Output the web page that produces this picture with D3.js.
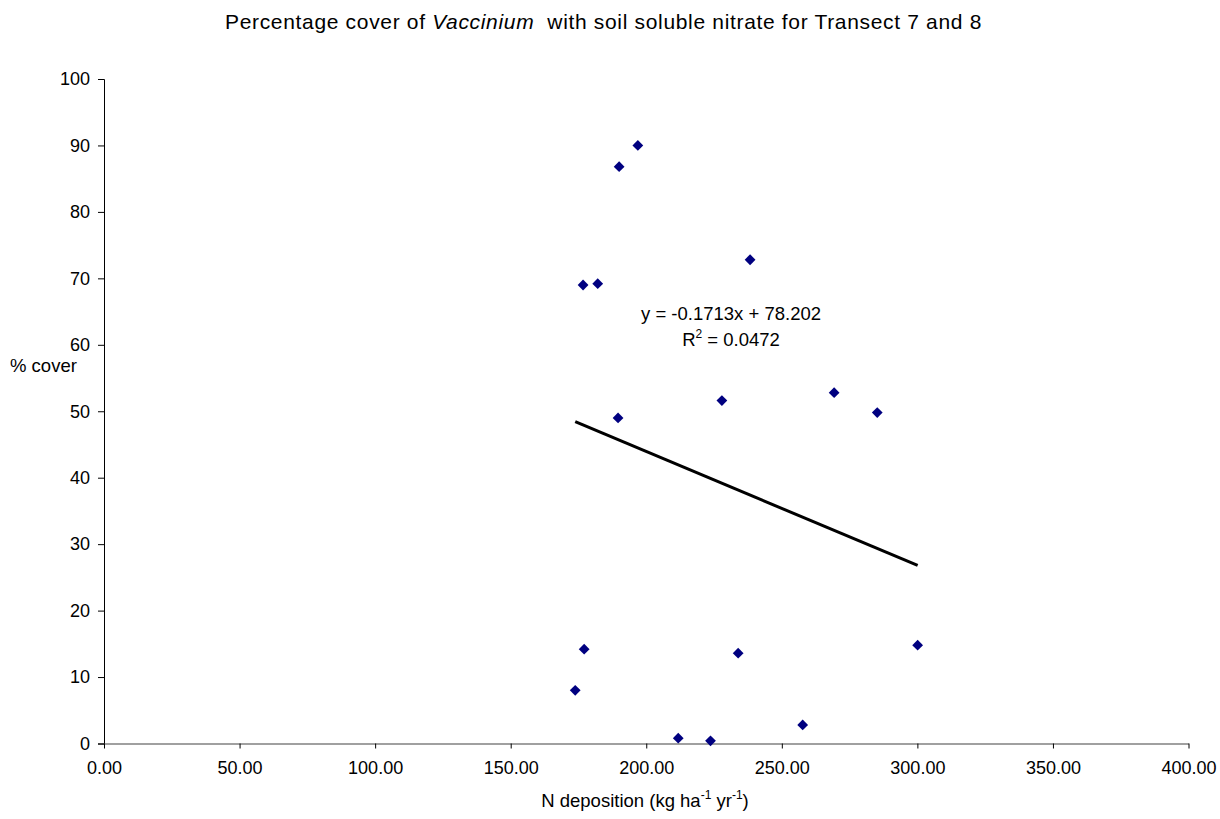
<!DOCTYPE html>
<html>
<head>
<meta charset="utf-8">
<script src="https://cdn.jsdelivr.net/npm/d3@7"></script>
<style>
  html, body { margin: 0; padding: 0; background: #fff; }
  svg { display: block; font-family: "Liberation Sans", Arial, sans-serif; }
</style>
</head>
<body>
<svg id="chart" width="1220" height="819"></svg>
<script>
// N deposition (kg ha-1 yr-1) and % cover of Vaccinium, Transects 7 and 8
const nDeposition = [173.8, 177.1, 176.7, 182.1, 190.0, 196.9, 238.3, 189.6,
                     227.9, 269.3, 285.2, 211.8, 223.7, 233.9, 257.7, 300.1];
const percentCover = [8.0, 14.2, 69.0, 69.2, 86.8, 90.0, 72.8, 49.0,
                      51.6, 52.8, 49.8, 0.8, 0.4, 13.6, 2.8, 14.8];

// Linear trendline as reported
const trendSlope = -0.1713;
const trendIntercept = 78.202;
const rSquared = "0.0472";

const xTicks = [0, 50, 100, 150, 200, 250, 300, 350, 400];
const yTicks = [0, 10, 20, 30, 40, 50, 60, 70, 80, 90, 100];

const svg = d3.select("#chart");
const FONT = "Liberation Sans, Arial, sans-serif";

const x = d3.scaleLinear().domain([0, 400]).range([104, 1188.5]);
const y = d3.scaleLinear().domain([0, 100]).range([743.5, 79]);

// Title, spread to its full width
const title = svg.append("text")
  .attr("x", 225).attr("y", 29)
  .attr("font-size", 21)
  .attr("fill", "#000")
  .attr("xml:space", "preserve");
title.append("tspan").text("Percentage cover of ");
title.append("tspan").attr("font-style", "italic").text("Vaccinium");
title.append("tspan").text("  with soil soluble nitrate for Transect 7 and 8");
{
  const w = title.node().getComputedTextLength();
  const n = title.text().length;
  const extra = (756 - w) / (n - 1);
  if (extra > 0) title.attr("letter-spacing", extra.toFixed(2));
}

// Y axis
const yAxis = svg.append("g")
  .attr("transform", `translate(${x(0)},0)`)
  .call(d3.axisLeft(y).tickValues(yTicks).tickSize(6).tickPadding(8).tickFormat(d3.format("d")));
yAxis.select(".domain").attr("stroke", "#000").attr("stroke-width", 1);
yAxis.selectAll(".tick line").attr("stroke", "#000");
yAxis.selectAll(".tick text").attr("font-size", 18).attr("fill", "#000")
  .attr("font-family", FONT);

// X axis
const xAxis = svg.append("g")
  .attr("transform", `translate(0,${y(0)})`)
  .call(d3.axisBottom(x).tickValues(xTicks).tickSize(5).tickSizeOuter(0).tickPadding(13).tickFormat(d3.format(".2f")));
xAxis.select(".domain").attr("stroke", "#808080").attr("stroke-width", 1.5);
xAxis.selectAll(".tick line").attr("stroke", "#000");
xAxis.selectAll(".tick text").attr("font-size", 18).attr("fill", "#000")
  .attr("font-family", FONT);

// Axis titles
svg.append("text")
  .attr("x", 10).attr("y", 372)
  .attr("font-size", 18.5).attr("fill", "#000")
  .text("% cover");

const xTitle = svg.append("text")
  .attr("x", 645).attr("y", 807)
  .attr("text-anchor", "middle")
  .attr("font-size", 18.5).attr("fill", "#000");
xTitle.append("tspan").text("N deposition (kg ha");
xTitle.append("tspan").attr("font-size", 12).attr("dy", -8).text("-1");
xTitle.append("tspan").attr("dy", 8).text(" yr");
xTitle.append("tspan").attr("font-size", 12).attr("dy", -8).text("-1");
xTitle.append("tspan").attr("dy", 8).text(")");

// Trendline over the data range
const [xMin, xMax] = d3.extent(nDeposition);
svg.append("line")
  .attr("x1", x(xMin)).attr("y1", y(trendSlope * xMin + trendIntercept))
  .attr("x2", x(xMax)).attr("y2", y(trendSlope * xMax + trendIntercept))
  .attr("stroke", "#000").attr("stroke-width", 3);

// Points (diamond markers)
const diamond = d3.symbol().type(d3.symbolSquare).size(58);
svg.append("g").selectAll("path")
  .data(d3.zip(nDeposition, percentCover))
  .join("path")
  .attr("d", diamond)
  .attr("transform", d => `translate(${x(d[0])},${y(d[1])}) rotate(45)`)
  .attr("fill", "#000080");

// Trendline equation
svg.append("text")
  .attr("x", 731).attr("y", 320)
  .attr("text-anchor", "middle")
  .attr("font-size", 18.5).attr("fill", "#000")
  .text(`y = ${trendSlope}x + ${trendIntercept}`);

const r2 = svg.append("text")
  .attr("x", 731).attr("y", 346)
  .attr("text-anchor", "middle")
  .attr("font-size", 18.5).attr("fill", "#000");
r2.append("tspan").text("R");
r2.append("tspan").attr("font-size", 12).attr("dy", -8).text("2");
r2.append("tspan").attr("dy", 8).text(` = ${rSquared}`);
</script>
</body>
</html>
